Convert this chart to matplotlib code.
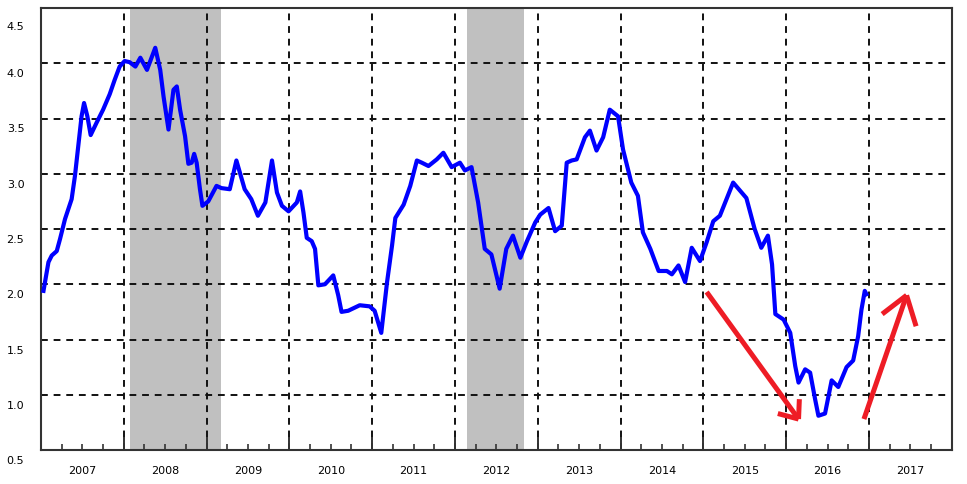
import numpy as np
import matplotlib
matplotlib.use("Agg")
import matplotlib.pyplot as plt
import matplotlib.transforms as mtransforms
from matplotlib.ticker import FixedLocator, FuncFormatter

# decimal years and values
dates = [2007.03, 2007.09, 2007.13, 2007.19, 2007.23, 2007.29, 2007.37, 2007.41, 2007.45, 2007.49,
         2007.52, 2007.56, 2007.60, 2007.67, 2007.75, 2007.83, 2007.89, 2007.95, 2008.01, 2008.07,
         2008.14, 2008.20, 2008.28, 2008.38, 2008.44, 2008.48, 2008.54, 2008.60, 2008.64, 2008.68,
         2008.74, 2008.78, 2008.82, 2008.85, 2008.88, 2008.92, 2008.95, 2009.02, 2009.12, 2009.18,
         2009.28, 2009.36, 2009.46, 2009.54, 2009.62, 2009.71, 2009.79, 2009.85, 2009.91, 2009.99,
         2010.09, 2010.13, 2010.17, 2010.21, 2010.27, 2010.31, 2010.35, 2010.43, 2010.53, 2010.59,
         2010.63, 2010.71, 2010.85, 2010.97, 2011.03, 2011.11, 2011.18, 2011.24, 2011.28, 2011.38,
         2011.46, 2011.54, 2011.60, 2011.68, 2011.78, 2011.86, 2011.96, 2012.06, 2012.12, 2012.20,
         2012.28, 2012.36, 2012.44, 2012.54, 2012.62, 2012.70, 2012.79, 2012.87, 2012.97, 2013.03,
         2013.13, 2013.21, 2013.29, 2013.35, 2013.41, 2013.47, 2013.57, 2013.63, 2013.71, 2013.79,
         2013.87, 2013.97, 2014.03, 2014.13, 2014.21, 2014.27, 2014.36, 2014.46, 2014.56, 2014.62,
         2014.70, 2014.78, 2014.86, 2014.96, 2015.04, 2015.12, 2015.20, 2015.36, 2015.52, 2015.62,
         2015.70, 2015.78, 2015.83, 2015.87, 2015.97, 2016.05, 2016.11, 2016.15, 2016.23, 2016.29,
         2016.35, 2016.39, 2016.47, 2016.55, 2016.63, 2016.73, 2016.81, 2016.87, 2016.91, 2016.95,
         2016.97]
values = [1.94, 2.20, 2.26, 2.30, 2.41, 2.59, 2.77, 2.98, 3.25, 3.52,
          3.64, 3.52, 3.35, 3.46, 3.58, 3.72, 3.85, 3.97, 4.02, 4.01,
          3.97, 4.05, 3.94, 4.14, 3.94, 3.70, 3.40, 3.76, 3.79, 3.58,
          3.34, 3.09, 3.10, 3.18, 3.10, 2.86, 2.71, 2.75, 2.89, 2.87,
          2.86, 3.12, 2.86, 2.77, 2.62, 2.74, 3.12, 2.83, 2.71, 2.66,
          2.74, 2.84, 2.65, 2.42, 2.39, 2.32, 1.99, 2.00, 2.08, 1.90,
          1.75, 1.76, 1.81, 1.80, 1.76, 1.56, 2.02, 2.35, 2.60, 2.72,
          2.89, 3.12, 3.10, 3.07, 3.13, 3.19, 3.06, 3.10, 3.03, 3.06,
          2.74, 2.32, 2.27, 1.96, 2.32, 2.44, 2.24, 2.39, 2.56, 2.63,
          2.69, 2.48, 2.53, 3.10, 3.12, 3.13, 3.33, 3.39, 3.21, 3.33,
          3.58, 3.52, 3.22, 2.92, 2.80, 2.47, 2.32, 2.12, 2.12, 2.09,
          2.17, 2.02, 2.33, 2.21, 2.38, 2.57, 2.62, 2.92, 2.78, 2.50,
          2.33, 2.44, 2.18, 1.73, 1.68, 1.56, 1.26, 1.11, 1.23, 1.20,
          0.96, 0.81, 0.83, 1.13, 1.07, 1.25, 1.31, 1.53, 1.77, 1.94,
          1.91]

# shaded periods (start, end)
shaded = [(2008.08, 2009.17), (2012.14, 2012.83)]

years = list(range(2007, 2018))
yticks = [0.5, 1.0, 1.5, 2.0, 2.5, 3.0, 3.5, 4.0, 4.5]

# hand-drawn red arrows: (start, tip, head end 1, head end 2)
arrow_down = [(2015.04, 1.93), (2016.15, 0.78), (2016.16, 0.96), (2015.90, 0.83)]
arrow_up = [(2016.94, 0.78), (2017.455, 1.90), (2017.16, 1.73), (2017.57, 1.62)]

fig = plt.figure(figsize=(9.67, 4.85), dpi=100)
ax = fig.add_axes([41/967, 1 - 451/485, (951.7 - 41)/967, (451 - 9)/485])

for a, b in shaded:
    ax.axvspan(a, b, color="#C0C0C0", lw=0, zorder=0)

grid_kw = dict(color="#111111", lw=1.4, ls=(0, (3.5, 3)), zorder=1)
for yr in years[1:]:
    ax.axvline(yr, **grid_kw)
for yv in yticks[1:-1]:
    ax.axhline(yv, **grid_kw)

ax.plot(dates, values, color="#0000FF", lw=3.0, solid_joinstyle="round", zorder=3)

red = "#EE1C25"
for arr in (arrow_down, arrow_up):
    s, tip, h1, h2 = arr
    for p in (s, h1, h2):
        ax.plot([p[0], tip[0]], [p[1], tip[1]], color=red, lw=3.6, solid_capstyle="butt", zorder=4)

ax.set_xlim(2007, 2018)
ax.set_ylim(0.5, 4.5)

for sp in ax.spines.values():
    sp.set_color("#333333")
    sp.set_linewidth(1.5)

ax.xaxis.set_major_locator(FixedLocator(years))
ax.xaxis.set_major_formatter(FuncFormatter(lambda v, p: ""))
quarters = [y + q for y in years for q in (0.25, 0.5, 0.75)]
ax.xaxis.set_minor_locator(FixedLocator(quarters))
ax.xaxis.set_minor_formatter(FuncFormatter(lambda v, p: str(int(v)) if abs(v % 1 - 0.5) < 1e-6 else ""))
ax.tick_params(axis="x", which="major", direction="in", length=9.5, width=1.4, color="#333333")
ax.tick_params(axis="x", which="minor", direction="in", length=4.5, width=1.2, color="#333333",
               pad=11, labelsize=8)

ax.set_yticks(yticks)
ax.set_yticklabels([f"{v:.1f}" for v in yticks])
ax.tick_params(axis="y", length=0, pad=12, labelsize=8)
for lab, v in zip(ax.get_yticklabels(), yticks):
    dy = -0.17 if v == 4.5 else -0.09
    lab.set_transform(lab.get_transform() + mtransforms.ScaledTranslation(0, dy, fig.dpi_scale_trans))

fig.savefig("out.png", dpi=100)
